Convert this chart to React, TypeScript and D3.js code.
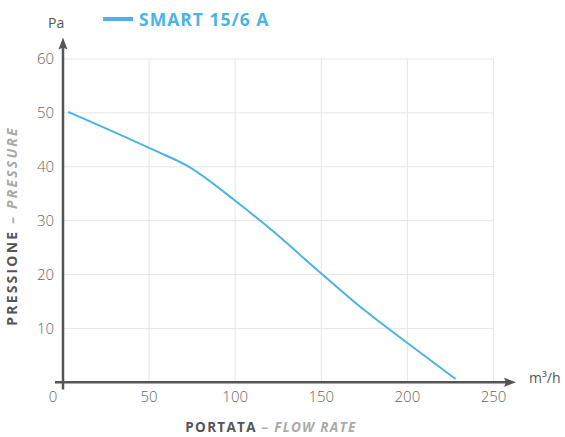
import React from "react";
import * as d3 from "d3";

const flowRate = [3, 53.5, 72, 100, 121, 150, 175, 200, 228];
const pressure = [50.2, 43, 40.2, 33.7, 28.3, 20.2, 13.4, 7.3, 0.6];
const xTicks = [50, 100, 150, 200, 250];
const yTicks = [10, 20, 30, 40, 50, 60];
const seriesName = "SMART 15/6 A";

const W = 565;
const H = 437;
const BLUE = "#4cb3e6";
const AXIS = "#555";
const GRID = "#e6e6e6";

export default function App() {
  const x = d3.scaleLinear().domain([0, 250]).range([63, 493.5]);
  const y = d3.scaleLinear().domain([0, 60]).range([382.3, 59]);

  const points = flowRate.map((f, i) => [f, pressure[i]] as [number, number]);
  const line = d3
    .line<[number, number]>()
    .x((d) => x(d[0]))
    .y((d) => y(d[1]))
    .curve(d3.curveMonotoneX);

  const font = "'Open Sans', sans-serif";

  return (
    <svg width={W} height={H} style={{ position: "absolute", left: 0, top: 0 }} fontFamily={font}>
      {/* grid */}
      {xTicks.map((t) => (
        <line key={"gx" + t} x1={x(t)} x2={x(t)} y1={y(60)} y2={y(0)} stroke={GRID} strokeWidth={1} />
      ))}
      {yTicks.map((t) => (
        <line key={"gy" + t} x1={x(0)} x2={x(250)} y1={y(t)} y2={y(t)} stroke={GRID} strokeWidth={1} />
      ))}

      {/* curve */}
      <path d={line(points) ?? ""} fill="none" stroke={BLUE} strokeWidth={2} />

      {/* axes */}
      <line x1={55} x2={508} y1={y(0)} y2={y(0)} stroke={AXIS} strokeWidth={2.5} />
      <path d={`M516,${y(0)} L504,${y(0) - 4.5} L506,${y(0)} L504,${y(0) + 4.5} Z`} fill={AXIS} />
      <line x1={x(0)} x2={x(0)} y1={389.5} y2={46} stroke={AXIS} strokeWidth={2.5} />
      <path d={`M${x(0)},37.5 L${x(0) - 4.5},49.5 L${x(0)},47.5 L${x(0) + 4.5},49.5 Z`} fill={AXIS} />

      {/* tick labels */}
      <text x={53} y={402} textAnchor="middle" fontSize={15} fill="#666" fontWeight={300}>0</text>
      {xTicks.map((t) => (
        <text key={"tx" + t} x={x(t)} y={402} textAnchor="middle" fontSize={15} fill="#666" fontWeight={300}>
          {t}
        </text>
      ))}
      {yTicks.map((t) => (
        <text key={"ty" + t} x={54} y={y(t)} dy="0.36em" textAnchor="end" fontSize={15} fill="#666" fontWeight={300}>
          {t}
        </text>
      ))}

      {/* units */}
      <text x={48} y={28} fontSize={14} fill={AXIS}>Pa</text>
      <text x={529} y={383} fontSize={14} fill={AXIS}>m³/h</text>

      {/* legend */}
      <line x1={103} x2={133} y1={19} y2={19} stroke={BLUE} strokeWidth={4} />
      <text x={139} y={25.5} fontSize={17.5} fontWeight={700} fill={BLUE} letterSpacing={1}>
        {seriesName}
      </text>

      {/* axis titles */}
      <text x={271} y={432} textAnchor="middle" fontSize={13.5} fontWeight={700} letterSpacing={1.3}>
        <tspan fill="#555">PORTATA</tspan>
        <tspan fill="#aaa" fontStyle="italic"> – FLOW RATE</tspan>
      </text>
      <text
        transform="translate(17,226) rotate(-90)"
        textAnchor="middle"
        fontSize={14}
        fontWeight={700}
        letterSpacing={2.2}
      >
        <tspan fill="#555">PRESSIONE</tspan>
        <tspan fill="#aaa" fontStyle="italic"> – PRESSURE</tspan>
      </text>
    </svg>
  );
}
